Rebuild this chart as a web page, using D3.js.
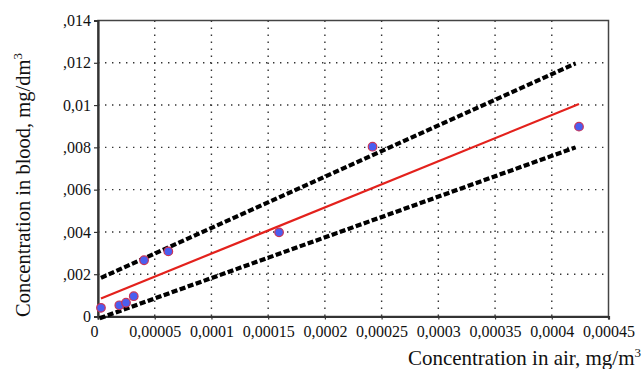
<!DOCTYPE html>
<html><head><meta charset="utf-8">
<script src="https://cdn.jsdelivr.net/npm/d3@7"></script>
<style>
html,body{margin:0;padding:0;background:#fff;}
svg text{font-family:"Liberation Serif","Times New Roman",serif !important;fill:#111;}
</style></head>
<body><svg id="c" width="643" height="369"></svg>
<script>
// Data
const airConc   = [0.0000026, 0.0000188, 0.0000247, 0.0000315, 0.0000406, 0.000062, 0.0001596, 0.000242, 0.000424];
const bloodConc = [0.00041, 0.00053, 0.00065, 0.00096, 0.00266, 0.00308, 0.00398, 0.00803, 0.00898];
const fitX   = [0.0000026, 0.000424];
const fitY   = [0.00085, 0.01005];
const upperX = [0.0000026, 0.000421];
const upperY = [0.00183, 0.01197];
const lowerX = [0.0000015, 0.000421];
const lowerY = [-0.00008, 0.0080];
const xTicks = [0, 0.00005, 0.0001, 0.00015, 0.0002, 0.00025, 0.0003, 0.00035, 0.0004, 0.00045];
const xTickLabels = ["0","0,00005","0,0001","0,00015","0,0002","0,00025","0,0003","0,00035","0,0004","0,00045"];
const yTicks = [0, 0.002, 0.004, 0.006, 0.008, 0.01, 0.012, 0.014];
const yTickLabels = ["0",",002",",004",",006",",008","0,01",",012",",014"];

const FONT = '"Liberation Serif","Times New Roman",serif';
const svg = d3.select("#c");
const L = 98, T = 20.5, R = 608.5, B = 316.5;
const x = d3.scaleLinear().domain([0, 0.00045]).range([L, R]);
const y = d3.scaleLinear().domain([0, 0.014]).range([B, T]);

// grid
const g = svg.append("g");
g.selectAll(".vg").data(xTicks.slice(1, -1)).join("line")
  .attr("x1", d => x(d)).attr("x2", d => x(d)).attr("y1", T).attr("y2", B)
  .attr("stroke", "#333").attr("stroke-width", 1.4).attr("stroke-dasharray", "1.4,5.6");
g.selectAll(".hg").data(yTicks.slice(1, -1)).join("line")
  .attr("x1", L).attr("x2", R).attr("y1", d => y(d)).attr("y2", d => y(d))
  .attr("stroke", "#333").attr("stroke-width", 1.4).attr("stroke-dasharray", "1.4,5.6");

// frame
svg.append("rect").attr("x", L).attr("y", T).attr("width", R - L).attr("height", B - T)
  .attr("fill", "none").attr("stroke", "#444").attr("stroke-width", 1.5);

// axes
const xAxis = d3.axisBottom(x).tickValues(xTicks).tickFormat((d, i) => xTickLabels[i]).tickSize(3).tickPadding(6);
const yAxis = d3.axisLeft(y).tickValues(yTicks).tickFormat((d, i) => yTickLabels[i]).tickSize(4).tickPadding(3);
const xa = svg.append("g").attr("transform", `translate(0,${B})`).call(xAxis);
const ya = svg.append("g").attr("transform", `translate(${L},0)`).call(yAxis);
[xa, ya].forEach(a => {
  a.attr("font-family", FONT).attr("font-size", 16);
  a.select(".domain").attr("stroke", "#333").attr("stroke-width", 2.2);
  a.selectAll(".tick line").attr("stroke", "#333").attr("stroke-width", 1.2);
  a.selectAll(".tick text").attr("font-family", FONT).attr("font-size", 16).attr("fill", "#111");
});
xa.selectAll(".tick").filter((d, i) => i === 0).select("text").attr("dx", -4);

// lines
const line = d3.line().x(d => x(d[0])).y(d => y(d[1]));
svg.append("path").datum(d3.zip(upperX, upperY)).attr("d", line)
  .attr("fill", "none").attr("stroke", "#000").attr("stroke-width", 4.2).attr("stroke-dasharray", "6,2.5");
svg.append("path").datum(d3.zip(lowerX, lowerY)).attr("d", line)
  .attr("fill", "none").attr("stroke", "#000").attr("stroke-width", 4.2).attr("stroke-dasharray", "6,2.5");
svg.append("path").datum(d3.zip(fitX, fitY)).attr("d", line)
  .attr("fill", "none").attr("stroke", "#e3211c").attr("stroke-width", 2.2);

// points
svg.selectAll(".pt").data(d3.zip(airConc, bloodConc)).join("circle")
  .attr("cx", d => x(d[0])).attr("cy", d => y(d[1])).attr("r", 4.3)
  .attr("fill", "#4a5ef0").attr("stroke", "#c8345a").attr("stroke-width", 1.2);

// titles
const xt = svg.append("text").attr("x", 641).attr("y", 365).attr("text-anchor", "end")
  .attr("font-family", FONT).attr("font-size", 21);
xt.append("tspan").text("Concentration in air, mg/m");
xt.append("tspan").attr("dy", -8).attr("font-size", 13).text("3");
const yt = svg.append("text").attr("transform", "translate(30,185) rotate(-90)").attr("text-anchor", "middle")
  .attr("font-family", FONT).attr("font-size", 20.5);
yt.append("tspan").text("Concentration in blood, mg/dm");
yt.append("tspan").attr("dy", -8).attr("font-size", 13).text("3");
</script></body></html>
